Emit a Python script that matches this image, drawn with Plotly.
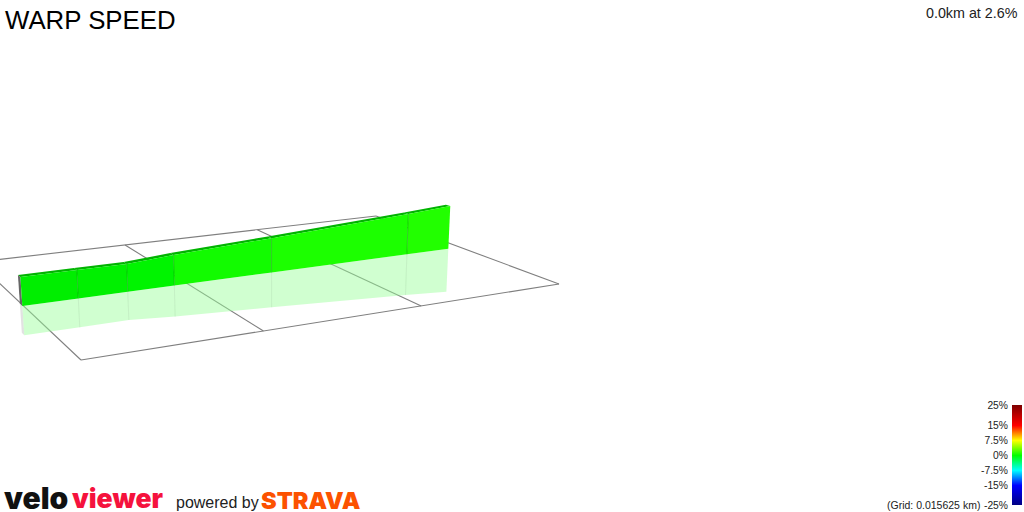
import numpy as np
import plotly.graph_objects as go

# ---- data ----
title = "WARP SPEED"
readout = "0.0km at 2.6%"
grid_km = 0.015625
grid_cells_x = 3
grid_cells_y = 1
route_km = [-0.0001, 0.0050, 0.0097, 0.0143, 0.0245, 0.0402, 0.0454]
height_m = [3.00, 3.02, 3.00, 3.36, 3.91, 4.84, 5.22]
segment_colours = ["#00ee00", "#00f000", "#00f400", "#12fb00", "#1cff00", "#22ff00"]
scale_ticks = [25, 15, 7.5, 0, -7.5, -15, -25]
scale_labels = ["25%", "15%", "7.5%", "0%", "-7.5%", "-15%", "-25%"]
scale_stops = [(-25, "#000080"), (-15, "#0000ff"), (-7.5, "#00ffff"), (0, "#00ff00"),
               (7.5, "#ffff00"), (15, "#ff0000"), (25, "#800000")]

# ---- camera: homography of the ground plus a vertical vanishing point ----
A, B, C = 609.1, -111.03, 81.0
D, E, F = -9.4, -17.96, 360.0
G, H = 0.2345, 0.3055
VX, VY = 274.0, 4080.0
Z_PER_M = 0.0029
ROUTE_T = 0.487
ROUTE_DT = 0.024
MIRROR = 1.035


def project(km, t, z):
    s = np.asarray(km, float) / (grid_km * grid_cells_x)
    t = np.asarray(t, float)
    w = np.asarray(z, float) * Z_PER_M
    den = G * s + H * t + 1 - w
    return (A * s + B * t + C - VX * w) / den, (D * s + E * t + F - VY * w) / den


fig = go.Figure()


def poly(kms, ts, zs, fill, line=None, lw=0):
    u, v = project(kms, ts, zs)
    fig.add_trace(go.Scatter(x=list(u) + [u[0]], y=list(v) + [v[0]], mode="lines", fill="toself",
                             fillcolor=fill, line=dict(color=line or fill, width=lw),
                             hoverinfo="skip", showlegend=False))


def stroke(kms, ts, zs, colour, lw=1.0):
    u, v = project(kms, ts, zs)
    fig.add_trace(go.Scatter(x=u, y=v, mode="lines", line=dict(color=colour, width=lw),
                             hoverinfo="skip", showlegend=False))


# ground grid
x_end = grid_km * grid_cells_x
for i in range(grid_cells_x + 1):
    stroke([i * grid_km] * 2, [0, grid_cells_y], [0, 0], "#7f7f7f", 1.1)
for j in range(grid_cells_y + 1):
    stroke([0, x_end], [j, j], [0, 0], "#7f7f7f", 1.1)

t0, t1 = ROUTE_T, ROUTE_T + ROUTE_DT
n = len(route_km)

# reflection
r = [-h * MIRROR for h in height_m]
poly([route_km[0]] * 4, [t0, t1, t1, t0], [0, 0, r[0], r[0]], "rgba(190,190,190,0.45)")
for i in range(n - 1):
    poly([route_km[i], route_km[i + 1], route_km[i + 1], route_km[i]], [t0] * 4,
         [0, 0, r[i + 1], r[i]], "rgba(150,255,150,0.45)")
for i in range(1, n - 1):
    stroke([route_km[i]] * 2, [t0] * 2, [0, r[i]], "rgba(120,170,120,0.18)", 1)

# wall: top ribbon, end cap, faces, separators
for i in range(n - 1):
    poly([route_km[i], route_km[i + 1], route_km[i + 1], route_km[i]], [t0, t0, t1, t1],
         [height_m[i], height_m[i + 1], height_m[i + 1], height_m[i]], "#00b400")
poly([route_km[0]] * 4, [t0, t1, t1, t0], [0, 0, height_m[0], height_m[0]], "#666666")
for i in range(n - 1):
    poly([route_km[i], route_km[i + 1], route_km[i + 1], route_km[i]], [t0] * 4,
         [0, 0, height_m[i + 1], height_m[i]], segment_colours[i])
for i in range(1, n - 1):
    stroke([route_km[i]] * 2, [t0] * 2, [0, height_m[i]], "rgba(0,130,0,0.4)", 1)

# gradient key
levels = np.arange(-25, 25.25, 0.5)
lo, hi = scale_stops[0][0], scale_stops[-1][0]
fig.add_trace(go.Heatmap(z=[[v] for v in levels], y=levels, x=[0], xaxis="x2", yaxis="y2",
                         zmin=lo, zmax=hi, showscale=False, hoverinfo="skip",
                         colorscale=[[(v - lo) / (hi - lo), c] for v, c in scale_stops]))

W, H_PX = 1024, 512
fig.update_layout(
    width=W, height=H_PX, margin=dict(l=0, r=0, t=0, b=0, autoexpand=False), autosize=False,
    paper_bgcolor="white", plot_bgcolor="rgba(0,0,0,0)",
    font=dict(family="Liberation Sans", color="#222222"),
    xaxis=dict(range=[0, W], visible=False, domain=[0, 1], fixedrange=True, automargin=False),
    yaxis=dict(range=[H_PX, 0], visible=False, domain=[0, 1], fixedrange=True, automargin=False),
    xaxis2=dict(domain=[1012 / W, 1022 / W], anchor="y2", visible=False, range=[-0.5, 0.5], automargin=False),
    yaxis2=dict(domain=[(H_PX - 505) / H_PX, (H_PX - 405) / H_PX], anchor="x2", range=[-25, 25],
                tickmode="array", tickvals=scale_ticks, ticktext=scale_labels, ticks="", automargin=False,
                showgrid=False, zeroline=False, showline=False, ticklabelstandoff=3,
                tickfont=dict(family="Liberation Sans", size=10.3, color="#222222")),
)


def label(px, py, text, size, colour="#111111", anchor="left", family="Liberation Sans", weight=None):
    fig.add_annotation(xref="paper", yref="paper", x=px / W, y=1 - py / H_PX, text=text, showarrow=False,
                       xanchor=anchor, yanchor="middle", borderpad=0,
                       font=dict(size=size, color=colour, family=family, weight=weight))


label(4, 19.5, title, 25.8, "#000000")
label(1019, 13, readout, 14.3, "#222222", "right")
label(981, 504.5, "(Grid: %s km)" % grid_km, 10.5, "#222222", "right")
label(3, 498, "velo", 30, "#111111", family="Inter", weight=900)
label(71, 498, "viewer", 26.5, "#f5123d", family="Inter", weight=900)
label(175, 502, "powered by", 16, "#222222")
label(260, 500.5, "STRAVA", 23.5, "#fc5200", family="Inter", weight=900)

fig.write_html("out.html", config={"displayModeBar": False},
               post_script="document.body.style.margin='0';document.body.style.overflow='hidden';")
